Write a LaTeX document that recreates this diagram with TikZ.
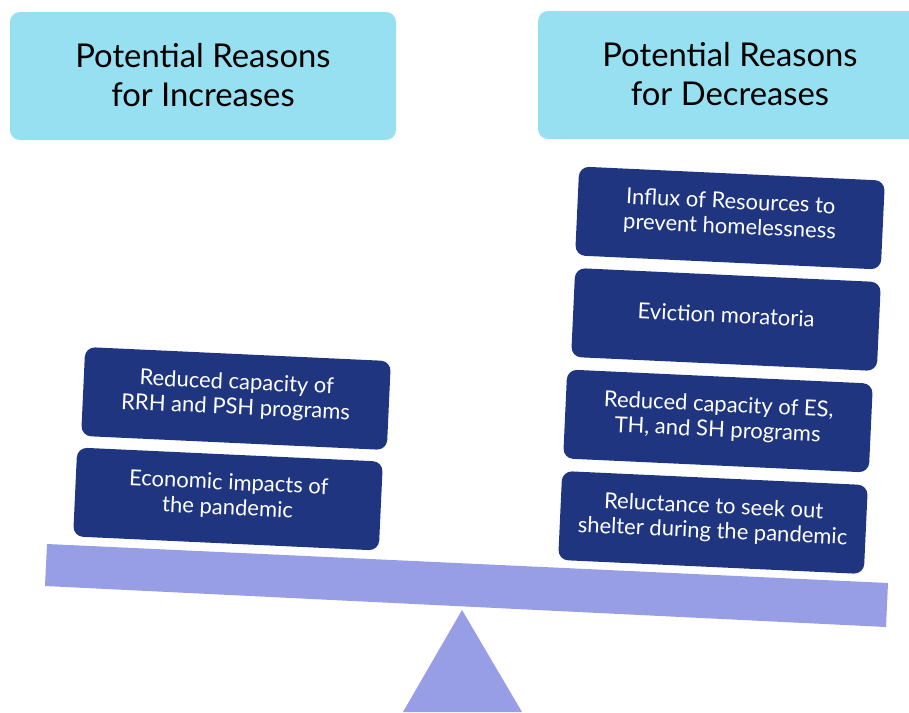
\documentclass[tikz,border=0pt]{standalone}
\usepackage{fontspec}
\setmainfont{Lato}
\definecolor{headbox}{HTML}{97E0F2}
\definecolor{darkbox}{HTML}{1F3580}
\definecolor{beam}{HTML}{989EE5}
\tikzset{
 headnode/.style={fill=headbox,rounded corners=10pt,minimum width=386pt,minimum height=128pt,align=center,font=\fontsize{32.8}{39}\selectfont,text=black,inner sep=0pt,text depth=2pt},
 reason/.style={fill=darkbox,rounded corners=10pt,minimum width=306pt,minimum height=89pt,align=center,font=\fontsize{22}{25}\selectfont,text=white,inner sep=0pt,rotate=-2.65,text depth=9.5pt},
}
\begin{document}
\begin{tikzpicture}[x=1pt,y=-1pt]
\useasboundingbox (0,0) rectangle (909,712);
\node[headnode] (inc) at (203,76) {Potential Reasons\\for Increases};
\node[headnode,minimum width=384pt] (dec) at (730,75) {Potential Reasons\\for Decreases};
\node[reason] (a) at (730,218) {Influx of Resources to\\prevent homelessness};
\node[reason] (b) at (726,319.5) {Eviction moratoria};
\node[reason] (c) at (718,421) {Reduced capacity of ES,\\TH, and SH programs};
\node[reason] (d) at (713,522.5) {Reluctance to seek out\\shelter during the pandemic};
\node[reason] (e) at (236,398.5) {Reduced capacity of\\RRH and PSH programs};
\node[reason] (f) at (228,499) {Economic impacts of\\the pandemic};
\fill[beam] (47,544) -- (888,583) -- (886,627) -- (45,586) -- cycle;
\fill[beam] (462,610) -- (522,712) -- (403,712) -- cycle;
\end{tikzpicture}
\end{document}
